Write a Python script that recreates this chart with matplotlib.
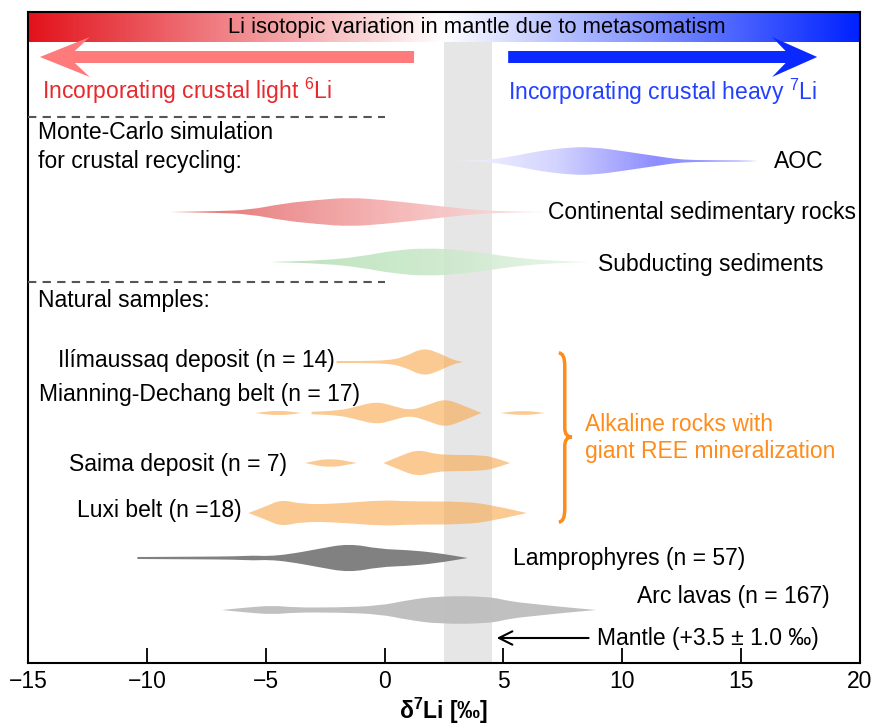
import matplotlib.pyplot as plt
import numpy as np
from matplotlib.colors import LinearSegmentedColormap
from matplotlib.patches import FancyArrow, PathPatch
from matplotlib.path import Path

plt.rcParams['font.family'] = ['Liberation Sans', 'DejaVu Sans']
plt.rcParams['font.size'] = 16.5
plt.rcParams['mathtext.fontset'] = 'custom'
plt.rcParams['mathtext.rm'] = 'Liberation Sans'
plt.rcParams['mathtext.it'] = 'Liberation Sans:italic'
plt.rcParams['mathtext.bf'] = 'Liberation Sans:bold'

# violin outlines: d7Li value and half width of the density
aoc_x = [2.9, 4.4, 5.8, 6.5, 7.9, 8.9, 10.0, 11.4, 12.2, 12.9, 15.0, 15.7]
aoc_w = [0, 0.8, 6.5, 10, 14, 13.5, 10, 5, 2.2, 0.9, 0.6, 0]
cont_x = [-9.02, -7.06, -5.66, -4.26, -2.86, -1.46, -0.05, 1.35, 2.75, 4.15, 5.5, 6.82]
cont_w = [0, 0.8, 2.2, 8.5, 12, 14.5, 12, 8.5, 4.7, 1.4, 0.6, 0]
subd_x = [-4.82, -2.44, -1.03, 0.37, 1.77, 3.17, 4.57, 5.98, 7.38, 8.64]
subd_w = [0, 1.8, 5.5, 11.5, 14, 12, 7.5, 3, 1, 0]

ilim_x = [[-2.02, -1.0, 0.09, 0.79, 1.63, 2.33, 2.89, 3.31]]
ilim_w = [[1.0, 1.0, 1.5, 4.5, 14.5, 8.5, 2, 0]]
mian_x = [[-5.45, -4.47, -3.49],
          [-3.07, -1.88, -1.17, -0.33, 0.37, 1.07, 1.77, 2.54, 3.31, 3.87, 4.08],
          [4.86, 5.84, 6.75]]
mian_w = [[0, 2.8, 0],
          [1.2, 2.5, 6.5, 11.5, 7, 2.5, 7.5, 14.5, 7.5, 2, 0],
          [0, 2.6, 0]]
saima_x = [[-3.35, -2.30, -1.17],
           [-0.05, 0.51, 1.35, 2.05, 2.61, 4.15, 4.72, 5.28]]
saima_w = [[0, 5, 0],
           [0, 5.5, 13.5, 9.5, 8, 8, 4.5, 0]]
luxi_x = [[-5.73, -4.96, -4.33, -3.42, -1.88, -0.05, 0.93, 3.45, 4.57, 5.98]]
luxi_w = [[0, 7, 13.5, 8.5, 9.5, 13, 11.5, 11.5, 7.5, 0]]
lamp_x = [[-10.4, -8, -6.3, -5.5, -4.9, -4.0, -2.8, -1.5, -0.2, 0.94, 2.1, 3.5]]
lamp_w = [[1, 1.3, 1.6, 2.5, 1.8, 3.8, 9, 14.5, 9, 8, 5.5, 0]]
arc_x = [[-6.85, -5.8, -4.7, -3.8, -2.0, -0.2, 1.0, 2.3, 4.4, 5.3, 6.3, 7.5, 8.9],
         [10.7, 11.7], [13.7, 14.7]]
arc_w = [[0, 2.5, 4.5, 2.5, 2.5, 4.2, 10, 14, 13.5, 8.5, 6, 3, 0],
         [0.45, 0.45], [0.45, 0.45]]

mantle_lo, mantle_hi = 2.5, 4.5


def outline(xs, ws, yc):
    xs = np.asarray(xs, float)
    ws = np.asarray(ws, float)
    top = np.column_stack([xs, yc - ws])
    bot = np.column_stack([xs, yc + ws])[::-1]
    verts, codes = [top[0]], [Path.MOVETO]
    for k, edge in enumerate((top, bot)):
        if k == 1:
            verts.append(edge[0]); codes.append(Path.LINETO)
        mids = (edge[:-1] + edge[1:]) / 2
        verts.append(mids[0]); codes.append(Path.LINETO)
        for i in range(1, len(edge) - 1):
            verts += [edge[i], mids[i]]
            codes += [Path.CURVE3, Path.CURVE3]
        verts.append(edge[-1]); codes.append(Path.LINETO)
    verts.append(top[0]); codes.append(Path.CLOSEPOLY)
    return Path(verts, codes)


def violin(ax, pieces_x, pieces_w, yc, color, alpha=1.0):
    for xs, ws in zip(pieces_x, pieces_w):
        ax.add_patch(PathPatch(outline(xs, ws, yc), fc=color, ec='none', alpha=alpha, zorder=3))


def grad_violin(ax, xs, ws, yc, colors, alpha=1.0):
    patch = PathPatch(outline(xs, ws, yc), fc='none', ec='none')
    ax.add_patch(patch)
    cmap = LinearSegmentedColormap.from_list('g', colors)
    im = ax.imshow(np.linspace(0, 1, 256)[None, :], extent=[xs[0], xs[-1], yc + 16, yc - 16],
                   cmap=cmap, aspect='auto', alpha=alpha, zorder=3, interpolation='bilinear')
    im.set_clip_path(patch)


fig = plt.figure(figsize=(8.74, 7.27), dpi=100)
ax = fig.add_axes([28 / 874, 64 / 727, 832 / 874, 651 / 727])

# top colour bar
bar_cmap = LinearSegmentedColormap.from_list('rb', ['#e3121b', '#ffffff', '#0022ff'])
ax.imshow(np.linspace(0, 1, 512)[None, :], extent=[-15, 20, 42, 12], cmap=bar_cmap,
          aspect='auto', zorder=2)
ax.text(3.9, 27, 'Li isotopic variation in mantle due to metasomatism', ha='center',
        va='center', fontsize=15.8, zorder=5)

# mantle band
ax.axvspan(mantle_lo, mantle_hi, ymin=0, ymax=(663 - 42) / 651, color='#e6e6e6', lw=0, zorder=1)

ax.add_patch(FancyArrow(1.24, 57, -15.74, 0, width=12, head_width=40, head_length=2.1,
                        length_includes_head=True, overhang=0.3, color='#ff7a7a', lw=0, zorder=4))
ax.add_patch(FancyArrow(5.2, 57, 13.0, 0, width=12, head_width=40, head_length=1.9,
                        length_includes_head=True, overhang=0.3, color='#0a28ff', lw=0, zorder=4))
ax.text(-14.4, 91, r'Incorporating crustal light $^{6}$Li', color='#e8282c', va='center')
ax.text(5.2, 92, r'Incorporating crustal heavy $^{7}$Li', color='#2340ff', va='center')

ax.plot([-15, 0], [117, 117], ls=(0, (4, 3)), color='#555555', lw=1.5, zorder=4)
ax.plot([-15, 0], [282, 282], ls=(0, (4, 3)), color='#555555', lw=1.5, zorder=4)
ax.text(-14.6, 147, 'Monte-Carlo simulation\nfor crustal recycling:', va='center',
        linespacing=1.3)
ax.text(-14.6, 300, 'Natural samples:', va='center')

# Monte-Carlo simulations
grad_violin(ax, aoc_x, aoc_w, 161, ['#f6f6ff', '#cfcfff', '#8080ff', '#9a9aff'], alpha=0.9)
grad_violin(ax, cont_x, cont_w, 212, ['#e05c5c', '#f2a3a3', '#fde6e6'], alpha=0.9)
grad_violin(ax, subd_x, subd_w, 262, ['#b3deb3', '#c6e7c6', '#e8f5e8'], alpha=0.85)
ax.text(16.4, 162, 'AOC', va='center')
ax.text(6.88, 213, 'Continental sedimentary rocks', va='center')
ax.text(8.98, 264, 'Subducting sediments', va='center')

# natural samples
orange = '#f9a649'
violin(ax, ilim_x, ilim_w, 362, orange, 0.6)
violin(ax, mian_x, mian_w, 413, orange, 0.6)
violin(ax, saima_x, saima_w, 463, orange, 0.6)
violin(ax, luxi_x, luxi_w, 513, orange, 0.6)
violin(ax, lamp_x, lamp_w, 558, '#7a7a7a', 0.95)
violin(ax, arc_x[:1], arc_w[:1], 610, '#bdbdbd', 0.95)
violin(ax, arc_x[1:], arc_w[1:], 611, '#d9d9d9', 0.9)

ax.text(-2.1, 361, 'Ilímaussaq deposit (n = 14)', ha='right', va='center')
ax.text(-1.05, 395, 'Mianning-Dechang belt (n = 17)', ha='right', va='center')
ax.text(-4.1, 464, 'Saima deposit (n = 7)', ha='right', va='center')
ax.text(-6.0, 510, 'Luxi belt (n =18)', ha='right', va='center')
ax.text(5.4, 558, 'Lamprophyres (n = 57)', va='center')
ax.text(10.6, 597, 'Arc lavas (n = 167)', va='center')

# brace for the alkaline rocks
bx, tip = 7.58, 7.88
brace = Path([(7.33, 353), (bx, 353), (bx, 366), (bx, 428), (bx, 437), (tip, 437),
              (bx, 437), (bx, 446), (bx, 509), (bx, 522), (7.33, 522)],
             [Path.MOVETO, Path.CURVE3, Path.CURVE3, Path.LINETO, Path.CURVE3, Path.CURVE3,
              Path.CURVE3, Path.CURVE3, Path.LINETO, Path.CURVE3, Path.CURVE3])
ax.add_patch(PathPatch(brace, fc='none', ec='#ff8c1a', lw=2.5, zorder=4))
ax.text(8.43, 438, 'Alkaline rocks with\ngiant REE mineralization', color='#ff8c1a',
        va='center', linespacing=1.2)

# mantle arrow
ax.annotate('', xy=(4.6, 638), xytext=(8.7, 638),
            arrowprops=dict(arrowstyle='->', lw=1.5, color='k', mutation_scale=24))
ax.text(8.93, 638, 'Mantle (+3.5 ± 1.0 ‰)', va='center')

ax.set_xlim(-15, 20)
ax.set_ylim(663, 12)
ax.set_xticks(np.arange(-15, 21, 5))
ax.set_yticks([])
ax.tick_params(axis='x', direction='in', length=11, width=1.3, pad=5)
for s in ax.spines.values():
    s.set_linewidth(1.5)
ax.set_xlabel(r'$\mathbf{δ^{7}Li}$ [‰]', fontweight='bold', labelpad=2)

fig.savefig('out.png', dpi=100)
